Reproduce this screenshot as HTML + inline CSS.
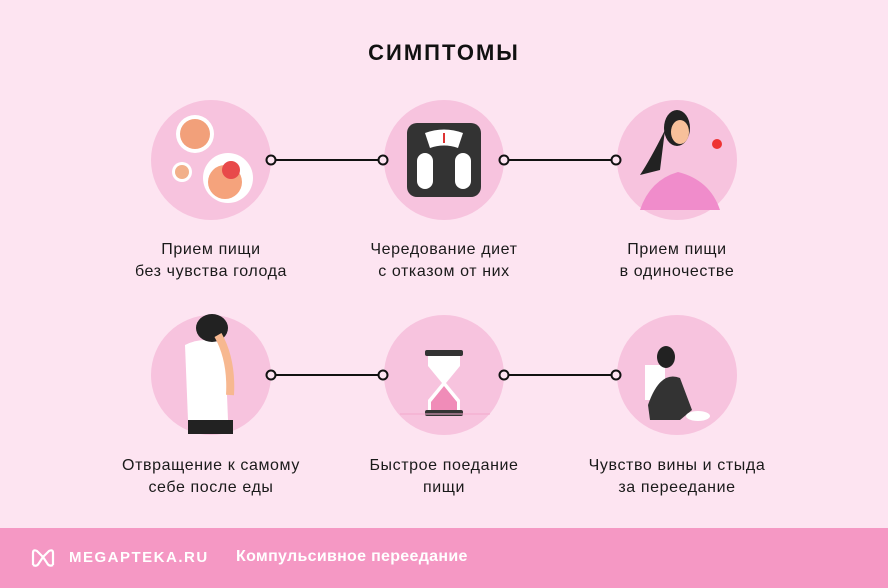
<!DOCTYPE html>
<html><head><meta charset="utf-8"><style>
body{margin:0;width:888px;height:588px;background:#fde4f1;position:relative;overflow:hidden;font-family:"Liberation Sans","DejaVu Sans",sans-serif}
.t{position:absolute;width:240px;text-align:center;font-size:16px;letter-spacing:0.6px;line-height:22px;color:#1a1a1a}
</style></head><body>
<div style="position:absolute;left:0;width:888px;top:40px;text-align:center;font-weight:bold;font-size:22px;letter-spacing:2px;color:#111">СИМПТОМЫ</div>
<svg width="888" height="588" style="position:absolute;left:0;top:0">
<g fill="#f7c3de"><circle cx="211" cy="160" r="60"/><circle cx="444" cy="160" r="60"/><circle cx="677" cy="160" r="60"/>
<circle cx="211" cy="375" r="60"/><circle cx="444" cy="375" r="60"/><circle cx="677" cy="375" r="60"/></g>
<g stroke="#111" stroke-width="2" fill="#fde4f1">
<line x1="271" y1="160" x2="383" y2="160"/><line x1="504" y1="160" x2="616" y2="160"/>
<line x1="271" y1="375" x2="383" y2="375"/><line x1="504" y1="375" x2="616" y2="375"/>
<circle cx="271" cy="160" r="4.5"/><circle cx="383" cy="160" r="4.5"/><circle cx="504" cy="160" r="4.5"/><circle cx="616" cy="160" r="4.5"/>
<circle cx="271" cy="375" r="4.5"/><circle cx="383" cy="375" r="4.5"/><circle cx="504" cy="375" r="4.5"/><circle cx="616" cy="375" r="4.5"/>
</g>
<circle cx="195" cy="134" r="19" fill="#fff"/><circle cx="195" cy="134" r="15" fill="#f2a07a"/>
<circle cx="182" cy="172" r="10" fill="#fff"/><circle cx="182" cy="172" r="7" fill="#f2b08a"/>
<circle cx="228" cy="178" r="25" fill="#fff"/><circle cx="225" cy="182" r="17" fill="#f5a37c"/><circle cx="231" cy="170" r="9" fill="#e84a4a"/>
<rect x="407" y="123" width="74" height="74" rx="10" fill="#333"/>
<path d="M425 133 Q444 126 463 133 L458 148 Q444 143 430 148Z" fill="#fff"/><rect x="443" y="133" width="2" height="10" fill="#d33"/>
<rect x="417" y="153" width="16" height="36" rx="8" fill="#fff"/><rect x="455" y="153" width="16" height="36" rx="8" fill="#fff"/>
<path d="M640 210 Q650 180 678 172 Q710 180 720 210Z" fill="#f08ccb"/>
<ellipse cx="677" cy="128" rx="13" ry="18" fill="#222"/><ellipse cx="680" cy="132" rx="9" ry="12" fill="#f7c09a"/>
<path d="M665 130 Q650 160 640 175 L660 170Z" fill="#222"/><circle cx="717" cy="144" r="5" fill="#e33"/>
<path d="M185 345 Q205 335 225 345 L228 420 L188 420Z" fill="#fff"/><rect x="188" y="420" width="45" height="14" fill="#222"/>
<ellipse cx="212" cy="328" rx="16" ry="14" fill="#222"/><path d="M218 335 Q232 360 230 395" stroke="#f7b890" stroke-width="8" fill="none"/>
<rect x="425" y="350" width="38" height="6" rx="2" fill="#333"/><rect x="425" y="410" width="38" height="6" rx="2" fill="#333"/>
<path d="M428 356 L460 356 L460 366 L446 383 L460 400 L460 410 L428 410 L428 400 L442 383 L428 366Z" fill="#fff"/>
<path d="M431 402 L444 386 L457 402 L457 410 L431 410Z" fill="#f08cb8"/>
<line x1="400" y1="414" x2="490" y2="414" stroke="#f3a8cc"/>
<rect x="645" y="365" width="20" height="35" fill="#fff"/><ellipse cx="666" cy="357" rx="9" ry="11" fill="#222"/>
<path d="M648 405 Q660 370 680 378 L692 410 L680 420 L650 420Z" fill="#333"/><ellipse cx="698" cy="416" rx="12" ry="5" fill="#fff"/>
</svg>
<div class="t" style="left:91px;top:239px">Прием пищи<br>без чувства голода</div>
<div class="t" style="left:324px;top:239px">Чередование диет<br>с отказом от них</div>
<div class="t" style="left:557px;top:239px">Прием пищи<br>в одиночестве</div>
<div class="t" style="left:91px;top:455px">Отвращение к самому<br>себе после еды</div>
<div class="t" style="left:324px;top:455px">Быстрое поедание<br>пищи</div>
<div class="t" style="left:557px;top:455px">Чувство вины и стыда<br>за переедание</div>
<div style="position:absolute;left:0;top:528px;width:888px;height:60px;background:#f598c4"></div>
<svg width="26" height="22" style="position:absolute;left:30px;top:547px"><path d="M3 18 V6 Q3 2 7 4 L13 10 L19 4 Q23 2 23 6 V18 M3 18 Q7 20 9 16 L13 10 M23 18 Q19 20 17 16 L13 10" stroke="#fff" stroke-width="2.2" fill="none"/></svg>
<div style="position:absolute;left:69px;top:549px;color:#fff;font-weight:bold;font-size:15px;letter-spacing:1.5px">MEGAPTEKA.RU</div>
<div style="position:absolute;left:236px;top:548px;color:#fff;font-weight:bold;font-size:16px;letter-spacing:0.3px">Компульсивное переедание</div>
</body></html>
